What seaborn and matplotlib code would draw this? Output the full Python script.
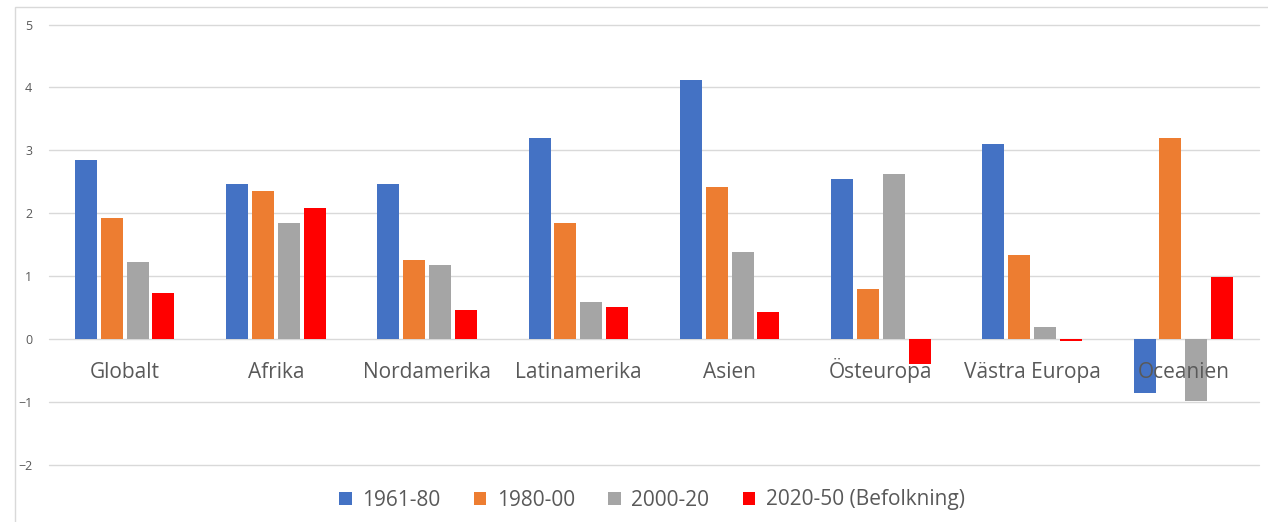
import matplotlib
matplotlib.use("Agg")
import matplotlib.pyplot as plt
from matplotlib.patches import Rectangle
import pandas as pd
import seaborn as sns

regions = ["Globalt", "Afrika", "Nordamerika", "Latinamerika", "Asien",
           "Östeuropa", "Västra Europa", "Oceanien"]
periods = ["1961-80", "1980-00", "2000-20", "2020-50 (Befolkning)"]

v_1961_80 = [2.84, 2.46, 2.46, 3.19, 4.12, 2.55, 3.10, -0.86]
v_1980_00 = [1.93, 2.35, 1.25, 1.84, 2.41, 0.79, 1.33, 3.19]
v_2000_20 = [1.22, 1.85, 1.18, 0.59, 1.39, 2.62, 0.19, -0.99]
v_2020_50 = [0.74, 2.08, 0.47, 0.51, 0.43, -0.39, -0.03, 0.99]

colors = ["#4472C4", "#ED7D31", "#A5A5A5", "#FF0000"]

rows = []
for period, vals in zip(periods, [v_1961_80, v_1980_00, v_2000_20, v_2020_50]):
    for region, v in zip(regions, vals):
        rows.append({"region": region, "period": period, "value": v})
df = pd.DataFrame(rows)

sns.set_style("white")
plt.rcParams["font.family"] = ["Open Sans", "DejaVu Sans"]

fig = plt.figure(figsize=(12.68, 5.22), dpi=100)
ax = fig.add_axes([49 / 1268, 1 - 465 / 522, (1259 - 49) / 1268, (465 - 24.5) / 522])

sns.barplot(data=df, x="region", y="value", hue="period", order=regions,
            hue_order=periods, palette=colors, width=0.685, gap=0.15,
            errorbar=None, saturation=1, linewidth=0, ax=ax)

ax.set_ylim(-2, 5)
ax.set_xlim(-0.5, len(regions) - 0.5)
ax.set_yticks(range(-2, 6))
ax.yaxis.grid(True, color="#D9D9D9", linewidth=1)
for line in ax.get_ygridlines():
    line.set_clip_on(False)
ax.set_axisbelow(True)
for s in ax.spines.values():
    s.set_visible(False)
ax.tick_params(axis="y", length=0, pad=12, labelsize=9, labelcolor="#595959")
ax.set_xticks([])
ax.set_xlabel("")
ax.set_ylabel("")

# category labels sit just under the zero line, drawn over the bars
for i, name in enumerate(regions):
    ax.text(i, -0.62, name, ha="center", va="baseline", fontsize=15,
            color="#595959", zorder=5)

handles, labels = ax.get_legend_handles_labels()
ax.legend(handles, labels, loc="center", bbox_to_anchor=(652 / 1268, 1 - 500 / 522),
          bbox_transform=fig.transFigure, ncol=4, frameon=False, fontsize=15,
          handlelength=0.6, handleheight=0.6, handletextpad=0.5,
          columnspacing=1.6, labelcolor="#595959")

# outer chart-area frame
fig.patches.append(Rectangle((15 / 1268, -0.05), 1.1, 1.05 - 7 / 522,
                             transform=fig.transFigure, fill=False,
                             edgecolor="#D9D9D9", linewidth=1))

fig.savefig("out.png", dpi=100)
